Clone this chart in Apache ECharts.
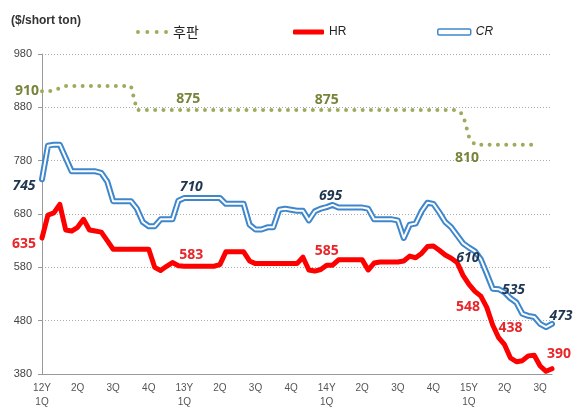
<!DOCTYPE html>
<html>
<head>
<meta charset="utf-8">
<script src="https://cdn.jsdelivr.net/npm/echarts@6/dist/echarts.min.js"></script>
<style>
  html, body { margin: 0; background: #fff; }
  #chart { width: 577px; height: 409px; }
</style>
</head>
<body>
<div id="chart"></div>
<script>
// quarter tick labels, 6 points per quarter (roughly bi-weekly prices)
const quarters = ['12Y\n1Q', '2Q', '3Q', '4Q', '13Y\n1Q', '2Q', '3Q', '4Q',
  '14Y\n1Q', '2Q', '3Q', '4Q', '15Y\n1Q', '2Q', '3Q'];
const perQuarter = 6;

// 후판 (plate)
const plate = [
  910, 910, 912, 916, 920, 920, 920, 920, 920, 920, 920, 920, 920, 920, 920, 920,
  875, 875, 875, 875, 875, 875, 875, 875, 875, 875,
  875, 875, 875, 875, 875, 875, 875, 875, 875, 875,
  875, 875, 875, 875, 875, 875, 875, 875, 875, 875,
  875, 875, 875, 875, 875, 875, 875, 875, 875, 875,
  875, 875, 875, 875, 875, 875, 875, 875, 875, 875,
  875, 875, 875, 875, 875,
  866, 825, 810, 810, 810, 810, 810, 810, 810, 810, 810, 810, 810,
  null, null, null
];

// HR
const hr = [
  635, 678, 682, 698, 650, 648, 655, 670, 650, 648,
  646, 630, 614, 614, 614, 614, 614, 614, 614, 580,
  574, 582, 589, 583, 582, 582, 582, 582, 582, 582,
  585, 609, 609, 609, 609, 592, 587, 587, 587, 587,
  587, 587, 587, 587, 599, 575, 573, 576, 584, 584,
  594, 594, 594, 594, 594, 575, 588, 590, 590, 590,
  590, 592, 601, 598, 606, 619, 620, 612, 603, 597,
  589, 565, 548, 535, 526, 505, 472, 448, 435, 410,
  403, 405, 414, 415, 395, 385, 390
];

// CR
const cr = [
  745, 808, 810, 810, 785, 760, 760, 760, 760, 760,
  757, 741, 704, 704, 704, 704, 690, 665, 657, 657,
  670, 670, 670, 705, 710, 710, 710, 710, 710, 710,
  710, 699, 699, 699, 699, 660, 651, 651, 655, 655,
  688, 690, 688, 686, 686, 668, 685, 690, 693, 697,
  692, 692, 692, 692, 692, 690, 670, 670, 670, 670,
  668, 635, 660, 662, 685, 701, 699, 683, 665, 655,
  640, 625, 617, 610, 595, 568, 540, 539, 533, 522,
  514, 493, 489, 487, 474, 468, 474
];

// value callouts: point index and text
const plateLabelIdx = [0, 25, 48, 73];
const plateLabelText = ['910', '875', '875', '810'];
const hrLabelIdx = [0, 25, 48, 72, 78, 86];
const hrLabelText = ['635', '583', '585', '548', '438', '390'];
const crLabelIdx = [0, 25, 49, 73, 79, 86];
const crLabelText = ['745', '710', '695', '610', '535', '473'];

const cats = hr.map((v, i) => 'w' + i);

const plain = '"Liberation Sans", Arial, sans-serif';
const numFont = '"Open Sans", "Liberation Sans", sans-serif';

function callouts(values, idx, texts, offsets, style) {
  return {
    symbol: 'circle',
    symbolSize: 0,
    silent: true,
    label: Object.assign({ show: true, position: 'inside', formatter: '{c}' }, style),
    data: idx.map((i, k) => ({
      coord: [i, values[i]],
      value: texts[k],
      label: { offset: offsets[k] }
    }))
  };
}

const chart = echarts.init(document.getElementById('chart'));

chart.setOption({
  animation: false,
  backgroundColor: '#fff',
  title: {
    text: '($/short ton)',
    left: 6,
    top: 10,
    textStyle: { fontSize: 12, fontWeight: 'bold', color: '#333', fontFamily: plain }
  },
  legend: [
    {
      left: 131, top: 20,
      itemWidth: 32, itemHeight: 4,
      data: [{
        name: '후판',
        icon: 'path://M0,2a2,2 0 1,0 4,0a2,2 0 1,0 -4,0M9.5,2a2,2 0 1,0 4,0a2,2 0 1,0 -4,0M19,2a2,2 0 1,0 4,0a2,2 0 1,0 -4,0M28.5,2a2,2 0 1,0 4,0a2,2 0 1,0 -4,0'
      }],
      textStyle: { fontSize: 14, color: '#222', fontFamily: '"Noto Sans CJK KR", sans-serif' }
    },
    {
      left: 288, top: 21,
      itemWidth: 31, itemHeight: 5,
      data: [{ name: 'HR', icon: 'roundRect' }],
      textStyle: { fontSize: 12, color: '#222', fontFamily: plain }
    },
    {
      left: 432, top: 21,
      itemWidth: 33, itemHeight: 6,
      data: [{
        name: 'CR', icon: 'roundRect',
        itemStyle: { color: '#fff', borderColor: '#3f87cc', borderWidth: 1.5 }
      }],
      textStyle: { fontSize: 12, color: '#222', fontStyle: 'italic', fontFamily: plain }
    }
  ],
  grid: { left: 42, right: 25, top: 54, bottom: 34, containLabel: false },
  xAxis: {
    type: 'category',
    data: cats,
    boundaryGap: false,
    axisLine: { lineStyle: { color: '#999', width: 1 } },
    axisTick: { show: false },
    axisLabel: {
      interval: perQuarter - 1,
      margin: 7,
      fontSize: 10,
      lineHeight: 14,
      color: '#555',
      fontFamily: plain,
      formatter: (v, i) => quarters[Math.floor(i / perQuarter)] || ''
    },
    splitLine: { show: false }
  },
  yAxis: {
    type: 'value',
    min: 380,
    max: 980,
    interval: 100,
    axisLine: { show: true, lineStyle: { color: '#999', width: 1 } },
    axisTick: { show: true, length: 4, lineStyle: { color: '#999' } },
    axisLabel: { margin: 10, fontSize: 11, color: '#444', fontFamily: plain },
    splitLine: { lineStyle: { color: '#aaa', type: [1, 2], width: 1 } }
  },
  series: [
    {
      name: '후판',
      type: 'line',
      data: plate,
      symbol: 'none',
      color: '#9bad5c',
      lineStyle: { color: '#9bad5c', width: 4, type: [0, 8.3], cap: 'round' },
      markPoint: callouts(plate, plateLabelIdx, plateLabelText,
        [[-15, 0], [-2, -11], [0, -10], [-8, 13]],
        { fontSize: 14, fontWeight: 'bold', color: '#77843a', fontFamily: numFont })
    },
    {
      name: 'HR',
      type: 'line',
      data: hr,
      symbol: 'none',
      color: '#ff0000',
      lineStyle: { color: '#ff0000', width: 5, join: 'round', cap: 'round' },
      markPoint: callouts(hr, hrLabelIdx, hrLabelText,
        [[-18, 6], [1, -11], [0, -14], [-1, 23], [6, -17], [7, -15]],
        { fontSize: 14, fontWeight: 'bold', color: '#e8262a', fontFamily: numFont })
    },
    {
      name: 'CR',
      type: 'line',
      data: cr,
      symbol: 'none',
      color: '#3f87cc',
      lineStyle: { color: '#3f87cc', width: 6, join: 'round', cap: 'round' },
      markPoint: callouts(cr, crLabelIdx, crLabelText,
        [[-18, 7], [1, -11], [-2, -9], [-7, 7], [3, -8], [9, -8]],
        { fontSize: 14, fontWeight: 'bold', fontStyle: 'italic', color: '#1f3550', fontFamily: numFont })
    },
    {
      name: 'CR-inner',
      type: 'line',
      data: cr,
      symbol: 'none',
      silent: true,
      lineStyle: { color: '#ffffff', width: 2, join: 'round', cap: 'round' },
      z: 3
    }
  ]
});
</script>
</body>
</html>
